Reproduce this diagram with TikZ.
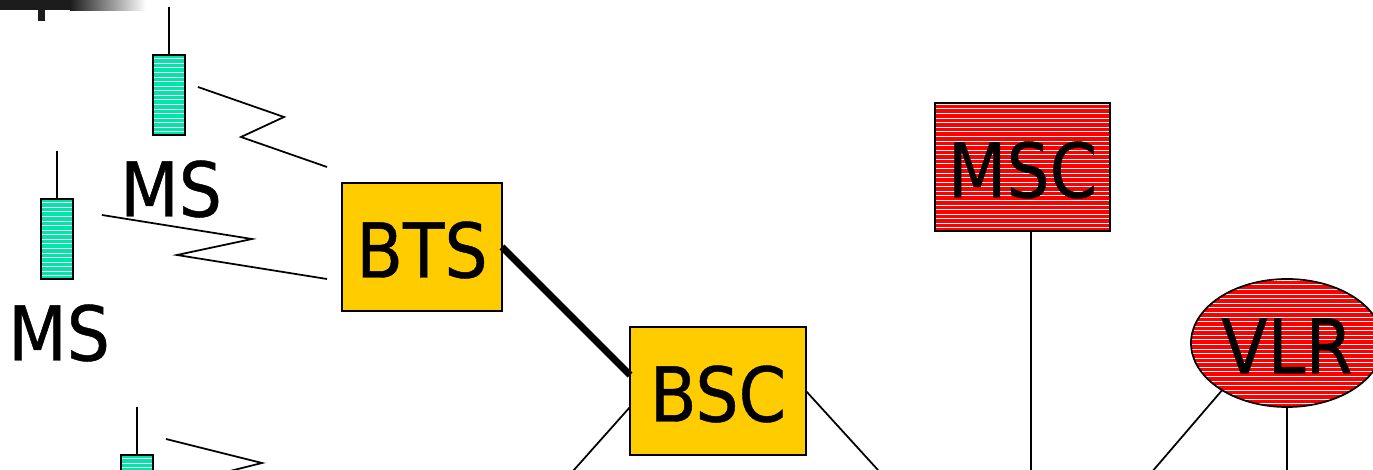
\documentclass[tikz,border=0pt]{standalone}
\usepackage{fontspec}
\setmainfont[FakeStretch=0.9,FakeBold=0.6]{DejaVu Sans}
\usetikzlibrary{shapes.geometric}
\definecolor{msgreen}{RGB}{0,230,170}
\definecolor{btsyellow}{RGB}{255,204,0}
\definecolor{barblack}{RGB}{28,28,28}
\tikzset{
    hatch/.style={path picture={
        \foreach \n in {1,...,32}
            \draw[white,line width=.55pt] ([yshift=\n*.0915cm-.03cm]path picture bounding box.south west) -- ([yshift=\n*.0915cm-.03cm]path picture bounding box.south east);
    }},
    unit/.style={draw=black,line width=1pt,inner sep=0pt,outer sep=0pt,text height=1.22cm,text depth=0pt,font=\fontsize{43}{50}\selectfont},
    mobile/.style={unit,hatch,fill=msgreen,minimum width=.64cm,minimum height=1.6cm},
    yellowbox/.style={unit,fill=btsyellow,minimum height=2.56cm},
    redbox/.style={unit,hatch,fill=red,minimum height=2.56cm},
    label/.style={inner sep=0pt,text height=1.22cm,text depth=0pt,font=\fontsize{43}{50}\selectfont},
    link/.style={line width=1pt}
}
\begin{document}
\begin{tikzpicture}[x=.02cm,y=-.02cm]
    \useasboundingbox (0,0) rectangle (1373,470);
    \clip (0,0) rectangle (1373,470);

    % corner mark
    \fill[barblack] (0,0) rectangle (70,10);
    \fill[left color=barblack,right color=white,draw=none] (70,0) rectangle (146,10);
    \fill[barblack] (38,10) rectangle (45,21);

    % mobile stations
    \node[mobile] (ms1) at (169,95) {};
    \node[mobile] (ms2) at (57,239) {};
    \node[mobile] (ms3) at (137,495) {};
    \node[label] (ms1label) at (171,186) {MS};
    \node[label] (ms2label) at (59,330) {MS};

    % antennas
    \coordinate (ant1) at (169,7);
    \coordinate (ant2) at (57,151);
    \coordinate (ant3) at (137,407);
    \draw[link] (ms1.north) -- (ant1);
    \draw[link] (ms2.north) -- (ant2);
    \draw[link] (ms3.north) -- (ant3);

    % base station side
    \node[yellowbox,minimum width=3.2cm] (bts) at (422,247) {BTS};
    \node[yellowbox,minimum width=3.52cm] (bsc) at (718,391) {BSC};

    % switching side
    \node[redbox,minimum width=3.5cm] (msc) at (1022.5,167) {MSC};
    \node[redbox,ellipse,minimum width=3.84cm] (vlr) at (1287,343) {VLR};

    % radio links
    \coordinate (radio1a) at (198,87);
    \coordinate (radio1b) at (327,167);
    \draw[link] (radio1a) -- (284,117) -- (241,137) -- (radio1b);
    \coordinate (radio2a) at (102,215);
    \coordinate (radio2b) at (327,279);
    \draw[link] (radio2a) -- (252,239) -- (177,255) -- (radio2b);
    \coordinate (radio3a) at (166,439);
    \coordinate (radio3b) at (310,499);
    \draw[link] (radio3a) -- (262,463) -- (214,475) -- (radio3b);

    % wired links, the free ends run off the page
    \coordinate (bscleft) at (565,480);
    \coordinate (bscright) at (888,481);
    \coordinate (mscdown) at (1031,480);
    \coordinate (vlrleft) at (1145,480);
    \coordinate (vlrdown) at (1287,480);
    \draw[line width=3.9pt] (bts.east) -- ([yshift=.32cm]bsc.west);
    \draw[link] ([yshift=-.32cm]bsc.west) -- (bscleft);
    \draw[link] (bsc.east) -- (bscright);
    \draw[link] ([xshift=.17cm]msc.south) -- (mscdown);
    \draw[link] (vlr.216) -- (vlrleft);
    \draw[link] (vlr.south) -- (vlrdown);
\end{tikzpicture}
\end{document}
